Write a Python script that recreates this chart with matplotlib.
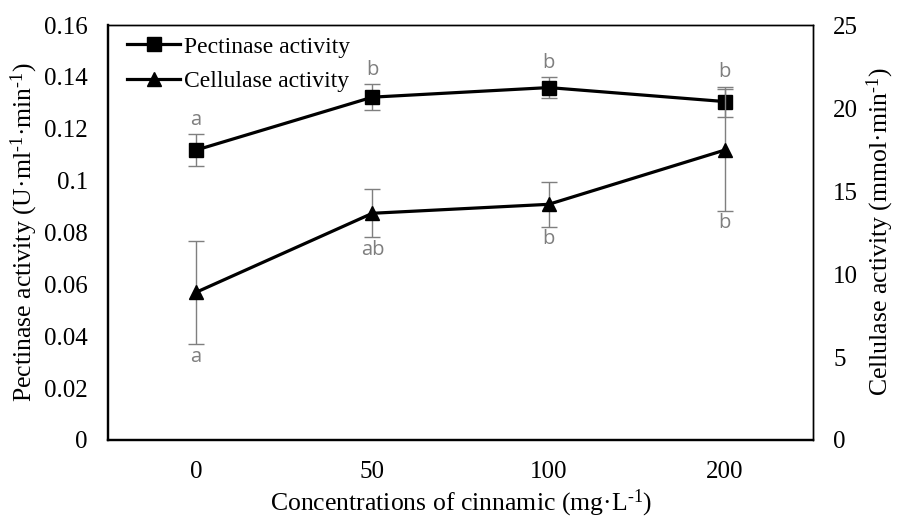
import numpy as np
import matplotlib.pyplot as plt

plt.rcParams['font.family'] = 'Liberation Serif'
plt.rcParams['mathtext.fontset'] = 'custom'
plt.rcParams['mathtext.rm'] = 'Liberation Serif'
plt.rcParams['mathtext.it'] = 'Liberation Serif'

# datos
conc = ['0', '50', '100', '200']
pectinase = [0.1118, 0.1322, 0.1359, 0.1305]
pectinase_err = [0.0062, 0.0050, 0.0040, 0.0058]
cellulase = [8.9, 13.66, 14.2, 17.47]
cellulase_err = [3.1, 1.45, 1.35, 3.65]
letras_pect = ['a', 'b', 'b', 'b']
letras_cel = ['a', 'ab', 'b', 'b']

x = np.arange(len(conc))
gris = '#7f7f7f'
sup = r'$^{\text{-}1}$'

fig = plt.figure(figsize=(8.97, 5.18), dpi=100)
ax = fig.add_axes([0.1204, 0.1506, 0.786, 0.801])
ax2 = ax.twinx()

# pectinasa en el eje izquierdo
ax.errorbar(x, pectinase, yerr=pectinase_err, fmt='none', ecolor=gris,
            elinewidth=1, capsize=6, capthick=1, zorder=2)
l1, = ax.plot(x, pectinase, color='black', linewidth=2.3, marker='s',
              markersize=10.5, zorder=3, label='Pectinase activity')

# celulasa en el eje derecho
ax2.errorbar(x, cellulase, yerr=cellulase_err, fmt='none', ecolor=gris,
             elinewidth=1, capsize=6, capthick=1, zorder=2)
l2, = ax2.plot(x, cellulase, color='black', linewidth=2.3, marker='^',
               markersize=10, zorder=3, label='Cellulase activity')

# letras de significancia
for i in range(len(conc)):
    ax.annotate(letras_pect[i], (x[i], pectinase[i] + pectinase_err[i]),
                xytext=(0, 3), textcoords='offset points', ha='center', va='bottom',
                color=gris, fontsize=14.5, family='Open Sans')
    ax2.annotate(letras_cel[i], (x[i], cellulase[i] - cellulase_err[i]),
                 xytext=(0, -2), textcoords='offset points', ha='center', va='top',
                 color=gris, fontsize=14.5, family='Open Sans')

ax.set_xlim(-0.5, 3.5)
ax.set_ylim(0, 0.16)
ax.set_yticks(np.arange(0, 0.161, 0.02))
ax.set_yticklabels(['0', '0.02', '0.04', '0.06', '0.08', '0.1', '0.12', '0.14', '0.16'])
ax2.set_ylim(0, 25)
ax2.set_yticks([0, 5, 10, 15, 20, 25])
ax.set_xticks(x)
ax.set_xticklabels(conc)

ax.tick_params(axis='both', length=0, labelsize=18, pad=14.5)
ax.tick_params(axis='x', pad=15)
ax2.tick_params(axis='y', length=0, labelsize=18, pad=14.5)

for a in [ax, ax2]:
    a.spines['left'].set_linewidth(1.6)
    a.spines['bottom'].set_linewidth(1.6)
    a.spines['top'].set_linewidth(1.0)
    a.spines['right'].set_linewidth(1.0)

fig.text(0.027, 0.552, 'Pectinase activity (U·ml' + sup + '·min' + sup + ')', rotation=90,
         ha='center', va='center', fontsize=18.5)
fig.text(0.981, 0.552, 'Cellulase activity (mmol·min' + sup + ')', rotation=90,
         ha='center', va='center', fontsize=18.5)
fig.text(0.514, 0.028, 'Concentrations of cinnamic (mg·L' + sup + ')',
         ha='center', va='center', fontsize=18.5)

ax.legend(handles=[l1, l2], loc='upper left', frameon=False, fontsize=17,
          handlelength=2.25, handletextpad=0.15, labelspacing=0.55,
          borderaxespad=0.0, bbox_to_anchor=(0.014, 0.996))

plt.savefig('out.png', dpi=100)
